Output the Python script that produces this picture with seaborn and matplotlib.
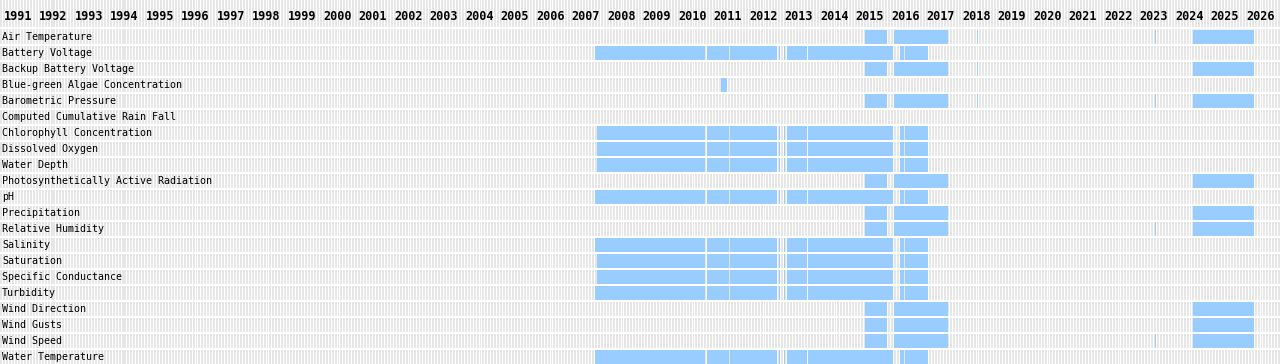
import numpy as np
import pandas as pd
import matplotlib
matplotlib.use("Agg")
import matplotlib.pyplot as plt
import matplotlib.transforms as mtransforms
import seaborn as sns

# parameters, top to bottom
params = [
    "Air Temperature", "Battery Voltage", "Backup Battery Voltage",
    "Blue-green Algae Concentration", "Barometric Pressure",
    "Computed Cumulative Rain Fall", "Chlorophyll Concentration",
    "Dissolved Oxygen", "Water Depth", "Photosynthetically Active Radiation",
    "pH", "Precipitation", "Relative Humidity", "Salinity", "Saturation",
    "Specific Conductance", "Turbidity", "Wind Direction", "Wind Gusts",
    "Wind Speed", "Water Temperature",
]

years = list(range(1991, 2027))

# periods with data (decimal years)
met_periods = [(2014.86, 2015.48), (2015.68, 2017.20), (2024.10, 2025.82)]
met_blip_2018 = [(2018.00, 2018.03)]
met_blip_2023 = [(2023.02, 2023.05)]
wq_periods = [(2007.25, 2010.35), (2010.41, 2011.04), (2011.06, 2012.38),
              (2012.43, 2012.465), (2012.577, 2012.614), (2012.654, 2013.217),
              (2013.245, 2015.656), (2015.837, 2015.949), (2015.977, 2016.625)]
wq_late_start = [(2007.30, 2010.35)] + wq_periods[1:]
algae_periods = [(2010.80, 2010.97)]

coverage = [
    met_periods + met_blip_2018 + met_blip_2023,   # Air Temperature
    wq_periods,                                     # Battery Voltage
    met_periods + met_blip_2018,                    # Backup Battery Voltage
    algae_periods,                                  # Blue-green Algae
    met_periods + met_blip_2018 + met_blip_2023,   # Barometric Pressure
    [],                                             # Computed Cumulative Rain Fall
    wq_late_start,                                  # Chlorophyll
    wq_late_start,                                  # Dissolved Oxygen
    wq_late_start,                                  # Water Depth
    met_periods,                                    # PAR
    wq_periods,                                     # pH
    met_periods,                                    # Precipitation
    met_periods + met_blip_2023,                    # Relative Humidity
    wq_periods,                                     # Salinity
    wq_late_start,                                  # Saturation
    wq_late_start,                                  # Specific Conductance
    wq_periods,                                     # Turbidity
    met_periods,                                    # Wind Direction
    met_periods,                                    # Wind Gusts
    met_periods + met_blip_2023,                    # Wind Speed
    wq_periods,                                     # Water Temperature
]

# one row per period
rows = []
for i, periods in enumerate(coverage):
    for start, end in periods:
        rows.append({"row": i, "start": start, "end": end})
seg = pd.DataFrame(rows)

sns.set_style("white")
plt.rcParams["font.family"] = ["DejaVu Sans Mono"]

fig = plt.figure(figsize=(12.8, 3.64), dpi=100)
ax = fig.add_axes([0, 0, 1, 1])

x0, x1 = 1990.493, 2026.549
y_top, y_bot = -2.3125, 20.4375

# monthly background stripes
months = np.arange(1990, 2027, 1 / 12)
ax.bar(months, y_bot - y_top, bottom=y_top, width=0.056, align="edge",
       color="#e6e6e6", linewidth=0, antialiased=False, zorder=0)

# data periods
for r in seg.itertuples():
    ax.barh(r.row, r.end - r.start, left=r.start, height=0.875,
            color="#99ccff", linewidth=0, antialiased=False, zorder=2)

# white separators between rows
for i in range(-1, len(params)):
    ax.axhline(i + 0.5 if i >= 0 else -0.5625, color="white", linewidth=1.44, zorder=1)

trans = mtransforms.blended_transform_factory(ax.transAxes, ax.transData)
for i, name in enumerate(params):
    ax.text(2 / 1280, i, name, transform=trans, ha="left", va="center",
            fontsize=7.2, color="black", zorder=3)

for y in years:
    ax.text(y, -1.3125, str(y), ha="center", va="center", fontsize=8.5,
            fontweight="bold", color="black", zorder=3)

ax.set_xlim(x0, x1)
ax.set_ylim(y_bot, y_top)
ax.axis("off")

fig.savefig("out.png", dpi=100)
